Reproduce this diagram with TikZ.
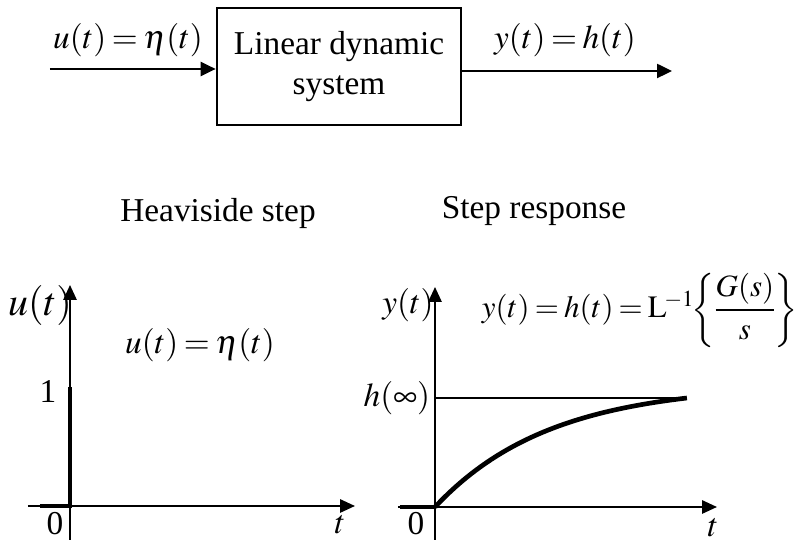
\documentclass[tikz,border=0pt]{standalone}
\usepackage{amsmath}
\usepackage{mathptmx}
\usepackage{fontspec}
\setmainfont{Liberation Serif}
\usetikzlibrary{arrows.meta}
\thickmuskip=3mu plus 2mu

\begin{document}
\begin{tikzpicture}[
            x=0.3pt,
            y=-0.3pt,
            block/.style={
                draw,
                line width=0.8pt,
                minimum width=73.2pt,
                minimum height=35.1pt,
                align=center,
                inner sep=1pt
            },
            flow/.style={
                line width=0.75pt,
                -{Triangle[length=4.5pt,width=4.2pt]}
            },
            axis/.style={
                line width=0.6pt,
                -{Triangle[length=4.5pt,width=4pt]}
            },
            signal/.style={
                line width=1.4pt
            },
            thinline/.style={
                line width=0.5pt
            },
            lbl/.style={
                inner sep=1pt
            }
        ]
            \useasboundingbox (0,0) rectangle (808,544);

            \node[block] (sys) at (339,66.5) {Linear dynamic\\system};
            \coordinate (in) at (50,69);
            \coordinate (out) at (672,71);
            \draw[flow] (in) -- (in -| sys.west);
            \draw[flow] (sys.east |- out) -- (out);
            \node[lbl] (inlabel) at (128,40) {$u(t)=\eta(t)$};
            \node[lbl] (outlabel) at (565,40) {$y(t)=h(t)$};

            \node[lbl] (steptitle) at (218,213) {Heaviside step};
            \node[lbl] (resptitle) at (534,211) {Step response};

            \coordinate (o1) at (70,506);
            \coordinate (ytop1) at (70,285);
            \coordinate (ybot1) at (70,540);
            \coordinate (xl1) at (28,506);
            \coordinate (xr1) at (355,506);
            \coordinate (s1) at (40,506);
            \coordinate (one) at (70,387);
            \draw[axis] (ybot1) -- (ytop1);
            \draw[axis] (xl1) -- (xr1);
            \draw[signal] (s1) -- (o1) -- (one);
            \node[lbl, font=\large] (uaxis) at (40,306) {$u(t)$};
            \node[lbl] (ueq) at (200,345) {$u(t)=\eta(t)$};
            \node[lbl] (onelabel) at (48,392) {1};
            \node[lbl] (zero1) at (55,524) {0};
            \node[lbl] (t1) at (340,525) {$t$};

            \coordinate (o2) at (435,507);
            \coordinate (ytop2) at (435,287);
            \coordinate (ybot2) at (435,540);
            \coordinate (xl2) at (398,507);
            \coordinate (xr2) at (717,507);
            \coordinate (s2) at (400,507);
            \coordinate (hinf) at (435,398);
            \coordinate (hend) at (687,398);
            \draw[axis] (ybot2) -- (ytop2);
            \draw[axis] (xl2) -- (xr2);
            \draw[thinline] (hinf) -- (hend);
            \draw[signal] (s2) -- (o2);
            \draw[signal, line join=round] plot[domain=0:1, samples=50]
                ({435+252*\x},{507-109*(1-exp(-2.2*\x))/(1-exp(-2.2))});
            \node[lbl, anchor=east] (hlabel) at (434,398) {$h(\infty)$};
            \node[lbl] (yaxis) at (408,305) {$y(t)$};
            \node[lbl, anchor=east, font=\fontsize{9.3}{11}\selectfont] (yeq) at (802,310)
                {$y(t)=h(t)=\mathrm{L}^{\!-1}\!\bigg\{\!\dfrac{G(s)}{s}\!\bigg\}$};
            \node[lbl] (zero2) at (416,524) {0};
            \node[lbl] (t2) at (713,528) {$t$};
        \end{tikzpicture}
\end{document}
